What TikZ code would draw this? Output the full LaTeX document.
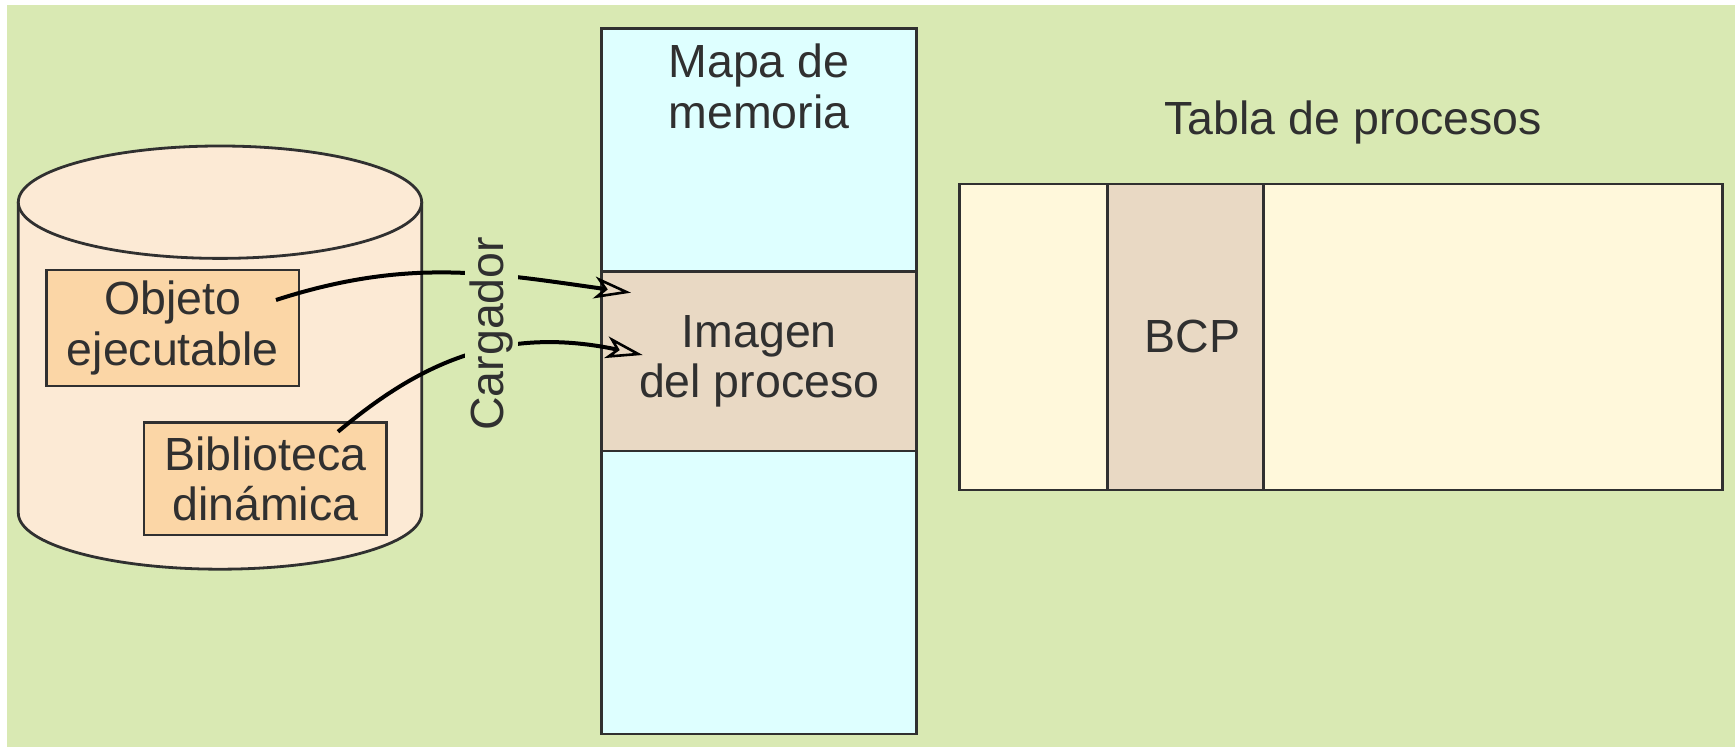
\documentclass[tikz,border=0pt]{standalone}
\usepackage{fontspec}
\setmainfont{Liberation Sans}
\usetikzlibrary{arrows.meta}
\definecolor{bggreen}{HTML}{D9E9B3}
\definecolor{diskfill}{HTML}{FCEAD5}
\definecolor{filefill}{HTML}{FBD6A6}
\definecolor{memfill}{HTML}{DEFFFF}
\definecolor{procfill}{HTML}{E9D9C4}
\definecolor{tablefill}{HTML}{FFF8DB}
\definecolor{ink}{HTML}{303030}
\begin{document}
\begin{tikzpicture}[x=0.5pt, y=-0.5pt,
  every node/.style={font=\fontsize{23.25pt}{25.4pt}\selectfont, text=ink},
  pane/.style={draw=ink, line width=1.4pt, inner sep=0pt, outer sep=0pt, align=center},
  txt/.style={inner sep=0pt, align=center},
  load/.style={draw=black, line width=2pt,
    -{Stealth[open, length=18.5pt, width=11pt, inset=5pt, line width=1.3pt]}},
]
\useasboundingbox (0,0) rectangle (1735,747);
\fill[white] (0,0) rectangle (1735,747);
\fill[bggreen] (6.7,5) rectangle (1735,747);

% disk holding the files
\fill[diskfill] (18.3,202.2) -- (18.3,513)
  arc[start angle=180, end angle=0, x radius=201.7, y radius=56.2] -- (421.7,202.2) -- cycle;
\draw[ink, line width=1.4pt] (18.3,202.2) -- (18.3,513)
  arc[start angle=180, end angle=0, x radius=201.7, y radius=56.2] -- (421.7,202.2);
\filldraw[fill=diskfill, draw=ink, line width=1.4pt] (220,202.2) ellipse[x radius=201.7, y radius=56.2];

\node[pane, fill=filefill, minimum width=126.15pt, minimum height=58pt] (exe) at (172.85,328) {Objeto\\ejecutable};
\node[pane, fill=filefill, minimum width=121.35pt, minimum height=56.15pt] (lib) at (265.35,478.85) {Biblioteca\\dinámica};

% memory map
\node[pane, fill=memfill, minimum width=157.5pt, minimum height=352.85pt] (mem) at (759.2,381.15) {};
\node[pane, fill=procfill, minimum width=157.5pt, minimum height=89.65pt] (img) at (759.2,361.35) {Imagen\\del proceso};
\node[txt] (maptitle) at (759,86.3) {Mapa de\\memoria};

% process table
\node[pane, fill=tablefill, minimum width=381.7pt, minimum height=153pt] (tab) at (1341,337) {};
\node[pane, fill=procfill, minimum width=77.95pt, minimum height=153pt] (bcp) at (1185.45,337) {};
\node[txt] (bcplabel) at (1192.5,336.7) {BCP};
\node[txt, anchor=base] (tabtitle) at (1353.3,135) {Tabla de procesos};

% loader arrows
\coordinate (exeout) at (276,300);
\coordinate (libout) at (338,431.7);
\coordinate (imgin1) at (631,292.7);
\coordinate (imgin2) at (642.7,355);
\draw[load] (exeout) .. controls (409,257) and (492.4,273.2) .. (imgin1);
\draw[load] (libout) .. controls (414.6,367.7) and (496,323.8) .. (imgin2);
\node[txt, rotate=90, fill=bggreen, inner sep=2.25pt] (loader) at (491.6,333.7) {Cargador};
\end{tikzpicture}
\end{document}
